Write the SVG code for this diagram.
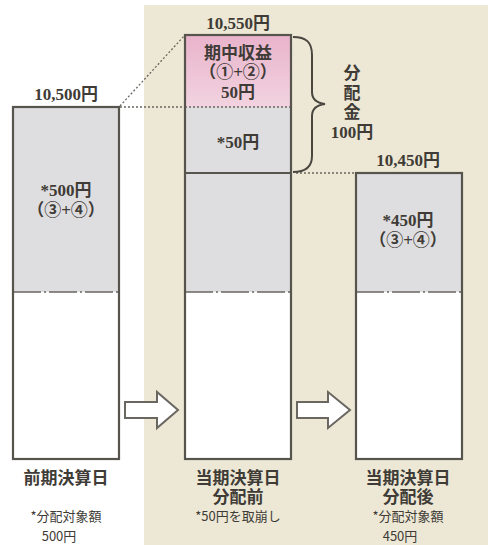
<svg xmlns="http://www.w3.org/2000/svg" width="488" height="545" viewBox="0 0 488 545">
<defs>
<linearGradient id="pinkG" x1="0" y1="0" x2="0" y2="1">
<stop offset="0" stop-color="#E9B3CB"/>
<stop offset="1" stop-color="#F2D3E0"/>
</linearGradient>
<style>
.box{fill:none;stroke:#57534d;stroke-width:2.2}
.gray{fill:#DEDEE0}
.wh{fill:#FFFFFF}
.div{stroke:#6a6660;stroke-width:1.6;stroke-dasharray:28 3 2 3;fill:none}
.dot{stroke:#6a6660;stroke-width:1.3;stroke-dasharray:2 2;fill:none}
.val{font-family:"Liberation Serif","Noto Sans CJK JP",serif;font-weight:bold;font-size:17px;fill:#3f3b36;text-anchor:middle}
.lbl{font-family:"Liberation Serif","Noto Sans CJK JP",serif;font-weight:bold;font-size:17px;fill:#3f3b36;text-anchor:middle}
.note{font-family:"Noto Sans CJK JP",sans-serif;font-size:13px;fill:#3f3b36;text-anchor:middle}
.arrow{fill:#FFFFFF;stroke:#6a6660;stroke-width:2;stroke-linejoin:miter}
</style>
</defs>
<rect x="0" y="0" width="488" height="545" fill="#FFFFFF"/>
<rect x="144" y="5" width="344" height="540" fill="#ECE8D5"/>

<g id="connectors">
<line class="dot" x1="120" y1="106" x2="185" y2="35"/>
<line class="dot" x1="120" y1="107" x2="185" y2="107"/>
<line class="dot" x1="296" y1="173" x2="355" y2="173"/>
<path d="M293,37 C306,37 312,42 312,55 L312,92 C312,100 317,103 325,104 C317,105 312,108 312,116 L312,156 C312,167 306,172 293,172" fill="none" stroke="#4a4640" stroke-width="2"/>
<polygon class="arrow" points="125,402 157,402 157,392 178,410 157,428 157,418 125,418"/>
<polygon class="arrow" points="297,402 328,402 328,392 350,410 328,428 328,418 297,418"/>
</g>

<g id="node-prev">
<rect class="gray" x="13" y="107" width="106" height="185"/>
<rect class="wh" x="13" y="292" width="106" height="167"/>
<line class="div" x1="13" y1="292" x2="119" y2="292"/>
<rect class="box" x="13" y="107" width="106" height="352"/>
<text class="val" x="66" y="100">10,500円</text>
<text class="val" x="66" y="196">*500円</text>
<text class="val" x="66" y="216" font-size="16">（③+④）</text>
<text class="lbl" x="66" y="484">前期決算日</text>
<text class="note" x="66" y="521">*分配対象額</text>
<text class="note" x="59" y="541">500円</text>
</g>

<g id="node-before">
<rect fill="url(#pinkG)" x="185" y="35" width="106" height="72"/>
<rect class="gray" x="185" y="107" width="106" height="185"/>
<rect class="wh" x="185" y="292" width="106" height="167"/>
<line class="dot" x1="185" y1="107" x2="291" y2="107"/>
<line x1="185" y1="173" x2="291" y2="173" stroke="#57534d" stroke-width="2"/>
<line class="div" x1="185" y1="292" x2="291" y2="292"/>
<rect class="box" x="185" y="35" width="106" height="424"/>
<text class="val" x="238" y="29">10,550円</text>
<text class="val" x="238" y="59">期中収益</text>
<text class="val" x="238" y="78" font-size="16">（①+②）</text>
<text class="val" x="238" y="98">50円</text>
<text class="val" x="238" y="148">*50円</text>
<text class="lbl" x="238" y="484">当期決算日</text>
<text class="lbl" x="238" y="503">分配前</text>
<text class="note" x="238" y="521">*50円を取崩し</text>
</g>

<g id="node-dist">
<text class="val" x="352" y="79" font-size="16">分</text>
<text class="val" x="352" y="99" font-size="16">配</text>
<text class="val" x="352" y="118" font-size="16">金</text>
<text class="val" x="352" y="138" font-size="16">100円</text>
</g>

<g id="node-after">
<rect class="gray" x="356" y="173" width="106" height="119"/>
<rect class="wh" x="356" y="292" width="106" height="167"/>
<line class="div" x1="356" y1="292" x2="462" y2="292"/>
<rect class="box" x="356" y="173" width="106" height="286"/>
<text class="val" x="408" y="166">10,450円</text>
<text class="val" x="408" y="226">*450円</text>
<text class="val" x="408" y="246" font-size="16">（③+④）</text>
<text class="lbl" x="408" y="484">当期決算日</text>
<text class="lbl" x="408" y="503">分配後</text>
<text class="note" x="408" y="521">*分配対象額</text>
<text class="note" x="400" y="541">450円</text>
</g>
</svg>
